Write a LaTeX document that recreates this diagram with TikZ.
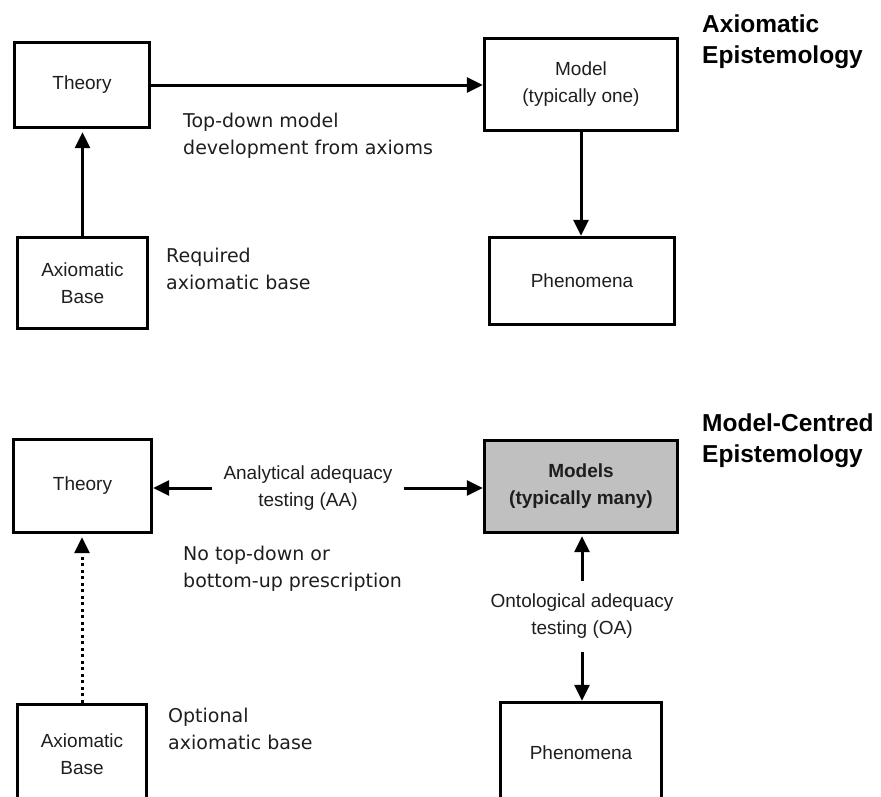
\documentclass[tikz,border=0pt]{standalone}
\usepackage{fontspec}
\setmainfont{Liberation Sans}
\newfontfamily\notefont{DejaVu Sans}
\usetikzlibrary{arrows.meta}
\definecolor{modelfill}{RGB}{192,192,192}
\definecolor{inktext}{RGB}{30,30,30}
\begin{document}
\begin{tikzpicture}[x=1pt,y=-1pt,
  boxnode/.style={draw, line width=3.4pt, align=center, inner sep=0pt, text=inktext,
    font=\fontsize{19}{27}\selectfont},
  arrowlink/.style={line width=3pt, -{Triangle[length=16pt,width=15pt]}},
  sidenote/.style={font=\notefont\fontsize{19}{27}\selectfont, align=left,
    anchor=north west, inner sep=0pt, text=inktext},
  testlabel/.style={font=\fontsize{19}{27}\selectfont, align=center, text=inktext},
  headline/.style={font=\bfseries\fontsize{24.5}{31}\selectfont, align=left,
    anchor=north west, inner sep=0pt}]
\clip (0,0) rectangle (881,796);

% ---------- Axiomatic epistemology ----------
\node[boxnode, minimum width=135pt, minimum height=85pt] (theoryA) at (82,85) {Theory};
\node[boxnode, minimum width=130pt, minimum height=91pt] (baseA) at (82.5,283) {Axiomatic\\Base};
\node[boxnode, minimum width=193pt, minimum height=92pt] (modelA) at (581,84.5) {Model\\(typically one)};
\node[boxnode, minimum width=185pt, minimum height=87pt] (phenA) at (582,281) {Phenomena};

\node[headline] (titleA) at (702,14.5) {Axiomatic\\Epistemology};
\node[sidenote] (noteTopDown) at (183,112.5) {Top-down model\\development from axioms};
\node[sidenote] (noteRequired) at (166,247.5) {Required\\axiomatic base};

\draw[arrowlink] (theoryA.east) -- (theoryA.east -| modelA.west);
\draw[arrowlink, shorten >=3pt] (baseA.north) -- (baseA.north |- theoryA.south);
\draw[arrowlink] (modelA.south) -- (modelA.south |- phenA.north);

% ---------- Model-centred epistemology ----------
\node[boxnode, minimum width=138pt, minimum height=93pt] (theoryB) at (82.5,486) {Theory};
\node[boxnode, minimum width=193pt, minimum height=92pt, fill=modelfill,
      font=\bfseries\fontsize{19}{27}\selectfont] (modelsB) at (581,486.5) {Models\\(typically many)};
% the lower boxes run past the bottom edge of the picture
\node[boxnode, minimum width=129pt, minimum height=100pt] (baseB) at (82,754.5) {Axiomatic\\Base};
\node[boxnode, minimum width=161pt, minimum height=100pt] (phenB) at (581,752.5) {Phenomena};

\node[headline] (titleB) at (702,414) {Model-Centred\\Epistemology};
\node[sidenote] (notePrescription) at (183,545.5) {No top-down or\\bottom-up prescription};
\node[sidenote] (noteOptional) at (168,707.5) {Optional\\axiomatic base};

\node[testlabel, inner xsep=11pt] (aa) at (308,488) {Analytical adequacy\\testing (AA)};
\node[testlabel, inner xsep=0pt, inner ysep=13pt] (oa) at (582,616.5) {Ontological adequacy\\testing (OA)};

\draw[arrowlink] (aa.west) -- (aa.west -| theoryB.east);
\draw[arrowlink] (aa.east) -- (aa.east -| modelsB.west);
\draw[arrowlink, shorten >=2pt] (oa.north) -- (oa.north |- modelsB.south);
\draw[arrowlink] (oa.south) -- (oa.south |- phenB.north);
\draw[arrowlink, dash pattern=on 3pt off 3.5pt, shorten >=3pt] (baseB.north) -- (baseB.north |- theoryB.south);
\end{tikzpicture}
\end{document}
